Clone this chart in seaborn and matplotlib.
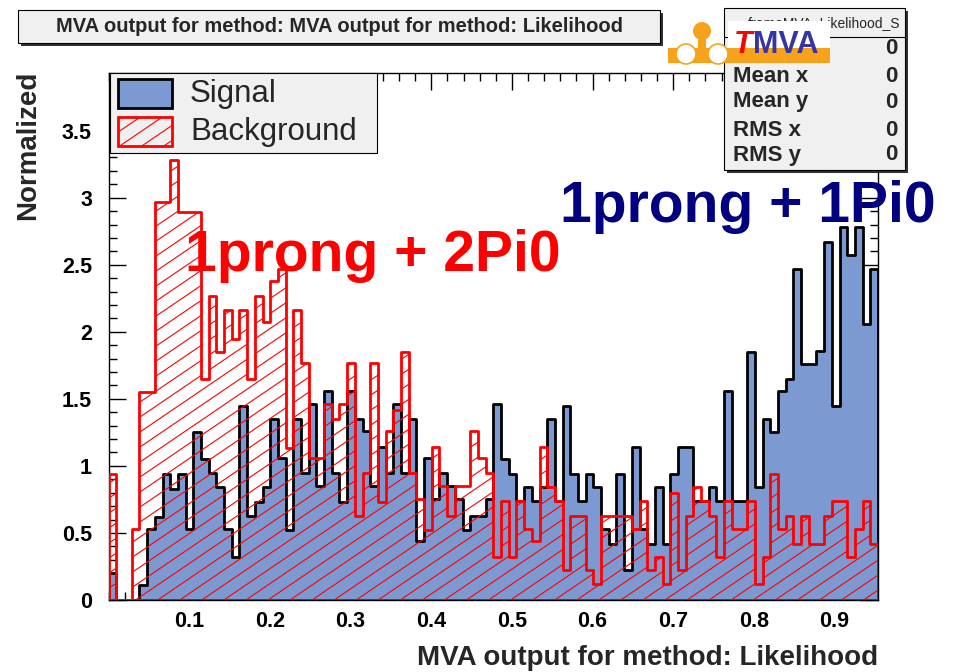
import numpy as np
import pandas as pd
import matplotlib
matplotlib.use("Agg")
import matplotlib.pyplot as plt
import seaborn as sns
from matplotlib.patches import Rectangle, Circle
from matplotlib.collections import LineCollection
from matplotlib.transforms import IdentityTransform
from matplotlib.ticker import MultipleLocator

# ---- histogram contents (normalized, 100 bins) ----
signal = [0.2, 0, 0, 0, 0.11, 0.53, 0.62, 0.94, 0.83, 0.94,
          0.53, 1.25, 1.05, 0.95, 0.84, 0.53, 0.32, 1.45, 0.63, 0.73,
          0.84, 1.35, 1.06, 0.52, 1.35, 0.95, 1.46, 0.85, 1.56, 0.95,
          0.73, 1.56, 1.35, 1.26, 0.85, 1.14, 0.95, 1.46, 0.95, 1.35,
          0.44, 1.06, 0.75, 0.95, 0.85, 0.75, 0.52, 0.63, 0.63, 0.75,
          1.46, 1.05, 0.94, 0.74, 0.84, 0.74, 0.84, 1.35, 0.74, 1.45,
          0.94, 0.74, 0.94, 0.84, 0.53, 0.42, 0.94, 0.22, 1.14, 0.53,
          0.42, 0.84, 0.42, 0.94, 1.14, 1.14, 0.74, 0.74, 0.84, 0.74,
          1.56, 0.74, 0.74, 1.85, 0.84, 1.35, 1.25, 1.56, 1.65, 2.47,
          1.76, 1.76, 1.86, 2.67, 1.45, 2.78, 2.57, 2.78, 2.06, 2.47]

background = [0.94, 0, 0, 0.53, 1.55, 1.55, 2.97, 2.97, 3.28, 2.89,
              2.89, 2.89, 1.65, 2.27, 1.85, 2.16, 1.95, 2.16, 1.65, 2.27,
              2.07, 2.38, 2.47, 1.13, 2.16, 1.77, 1.06, 1.06, 1.46, 1.35,
              1.46, 1.77, 0.63, 0.95, 1.77, 0.73, 1.26, 1.42, 1.85, 0.95,
              0.75, 0.52, 1.14, 0.85, 0.63, 0.85, 0.85, 1.26, 1.06, 0.95,
              0.32, 0.74, 0.32, 0.74, 0.53, 0.44, 1.14, 0.84, 0.74, 0.22,
              0.63, 0.63, 0.22, 0.12, 0.63, 0.63, 0.63, 0.63, 0.53, 0.74,
              0.22, 0.32, 0.12, 0.8, 0.22, 0.63, 0.84, 0.74, 0.63, 0.32,
              0.74, 0.53, 0.53, 0.74, 0.12, 0.32, 0.94, 0.53, 0.63, 0.42,
              0.63, 0.42, 0.42, 0.63, 0.74, 0.74, 0.32, 0.53, 0.74, 0.42]

x_range = [0.0, 0.954]
x_ticks = [0.1, 0.2, 0.3, 0.4, 0.5, 0.6, 0.7, 0.8, 0.9]
x_tick_labels = ["0.1", "0.2", "0.3", "0.4", "0.5", "0.6", "0.7", "0.8", "0.9"]
y_ticks = [0, 0.5, 1, 1.5, 2, 2.5, 3, 3.5]
y_tick_labels = ["0", "0.5", "1", "1.5", "2", "2.5", "3", "3.5"]
stats_rows = [("", "0"), ("Mean x", "0"), ("Mean y", "0"), ("RMS x", "0"), ("RMS y", "0")]

W, H = 959, 672
SIG_FILL = "#7d99d1"
ORANGE = "#f7a21b"

sns.set_theme(style="ticks")
plt.rcParams["font.family"] = ["Liberation Sans", "DejaVu Sans"]

fig = plt.figure(figsize=(W / 100, H / 100), dpi=100)
PIX = IdentityTransform()


def P(x, y):
    """pixel position measured from the top-left corner -> display coords"""
    return x, H - y


ax_l, ax_r, ax_t, ax_b = 108.7, 878.0, 73.0, 600.0
ax = fig.add_axes([ax_l / W, 1 - ax_b / H, (ax_r - ax_l) / W, (ax_b - ax_t) / H])

edges = list(np.linspace(x_range[0], x_range[1], len(signal) + 1))
centers = [0.5 * (a + b) for a, b in zip(edges[:-1], edges[1:])]
df = pd.DataFrame({"mva": centers, "signal": signal, "background": background})

sns.histplot(data=df, x="mva", weights="signal", bins=edges, element="step",
             fill=True, ax=ax, color=SIG_FILL, linewidth=2.0, zorder=2)
sig_poly = ax.collections[-1]
sig_poly.set_alpha(None)
sig_poly.set_facecolor(SIG_FILL)
sig_poly.set_edgecolor("black")

sns.histplot(data=df, x="mva", weights="background", bins=edges, element="step",
             fill=True, ax=ax, color="red", linewidth=2.0, zorder=4)
bkg_poly = ax.collections[-1]
bkg_poly.set_alpha(None)
bkg_poly.set_facecolor("none")
bkg_poly.set_edgecolor("red")


def hatch_lines(x0, x1, y0, y1, slope=0.68, step=15.0):
    """parallel rising lines covering a pixel box (display coords)"""
    segs = []
    c = y0 - slope * (x1 - x0) - step
    while c < y1 + step:
        segs.append([(x0, c), (x1, c + slope * (x1 - x0))])
        c += step
    return segs


hl = LineCollection(hatch_lines(100, 890, 60, 620), colors="red",
                    linewidths=0.8, transform=PIX, zorder=3)
ax.add_collection(hl, autolim=False)
hl.set_clip_path(bkg_poly.get_paths()[0], bkg_poly.get_transform())

ax.set_xlim(*x_range)
ax.set_ylim(0, 3.93)
ax.set_xticks(x_ticks)
ax.set_xticklabels(x_tick_labels, fontweight="bold")
ax.set_yticks(y_ticks)
ax.set_yticklabels(y_tick_labels, fontweight="bold")
ax.xaxis.set_minor_locator(MultipleLocator(0.02))
ax.yaxis.set_minor_locator(MultipleLocator(0.1))
ax.tick_params(which="both", direction="in", top=True, right=True,
               color="black", width=1.0, labelsize=15.5, labelcolor="black")
ax.tick_params(which="major", length=12)
ax.tick_params(which="minor", length=6)
ax.tick_params(axis="y", pad=12)
ax.tick_params(axis="x", pad=8)
for s in ax.spines.values():
    s.set_color("black")
    s.set_linewidth(1.0)

ax.set_xlabel("MVA output for method: Likelihood", fontsize=20,
              fontweight="bold", loc="right")
ax.xaxis.set_label_coords(1.0, -0.085)
ax.set_ylabel("Normalized", fontsize=20, fontweight="bold", loc="top")
ax.yaxis.set_label_coords(-0.088, 1.005)

# channel annotations
ax.text(185, H - 271, "1prong + 2Pi0", transform=PIX, color="red",
        fontsize=41, fontweight="bold", ha="left", va="baseline", zorder=6)
ax.text(560, H - 222, "1prong + 1Pi0", transform=PIX, color="#000080",
        fontsize=41, fontweight="bold", ha="left", va="baseline", zorder=6)


def box(x0, y0, x1, y1, face, shadow=0, z=5, lw=0.8):
    if shadow:
        fig.add_artist(Rectangle(P(x0 + shadow, y1 + shadow), x1 - x0, y1 - y0,
                                 transform=PIX, facecolor="#303030",
                                 edgecolor="none", zorder=z - 0.1))
    r = Rectangle(P(x0, y1), x1 - x0, y1 - y0, transform=PIX, facecolor=face,
                  edgecolor="black", linewidth=lw, zorder=z)
    fig.add_artist(r)
    return r


# title box
box(18, 10, 660, 43, "#f0f0f0", shadow=3)
fig.text(*P(339, 27), "MVA output for method: MVA output for method: Likelihood",
         transform=PIX, ha="center", va="center", fontsize=14.5,
         fontweight="bold", zorder=6)

# legend
box(110, 73, 377, 153, "#f0f0f0", z=5)
box(118, 79, 172, 108, SIG_FILL, z=6, lw=2.0)
leg_bkg = Rectangle(P(118, 146), 54, 29, transform=PIX, facecolor="none",
                    edgecolor="red", linewidth=2.0, zorder=6.2)
fig.add_artist(leg_bkg)
leg_hatch = LineCollection(hatch_lines(110, 180, H - 150, H - 114), colors="red",
                           linewidths=0.8, transform=PIX, zorder=6.1)
fig.add_artist(leg_hatch)
leg_hatch.set_clip_path(leg_bkg)
fig.text(*P(190, 94), "Signal", transform=PIX, ha="left", va="center",
         fontsize=22.5, zorder=7)
fig.text(*P(190, 132), "Background", transform=PIX, ha="left", va="center",
         fontsize=22.5, zorder=7)

# statistics box
box(724, 8, 905, 170, "#f0f0f0", shadow=3, z=5)
fig.add_artist(plt.Line2D([724, 905], [H - 37, H - 37], transform=PIX,
                          color="black", linewidth=0.8, zorder=5.5))
fig.text(*P(900, 23), "frameMVA_Likelihood_S", transform=PIX, ha="right",
         va="center", fontsize=10, zorder=6)
row_y = [48, 76, 102, 130, 155]
for (lab, val), yy in zip(stats_rows, row_y):
    if lab:
        fig.text(*P(733, yy), lab, transform=PIX, ha="left", va="center",
                 fontsize=16, fontweight="bold", zorder=6)
    fig.text(*P(897, yy), val, transform=PIX, ha="right", va="center",
             fontsize=16, fontweight="bold", zorder=6)

# TMVA logo
fig.add_artist(Rectangle(P(668, 63), 162, 15, transform=PIX, facecolor=ORANGE,
                         edgecolor="none", zorder=8))
fig.add_artist(Rectangle(P(728, 48), 102, 27, transform=PIX, facecolor="white",
                         edgecolor="none", zorder=8))
fig.add_artist(Rectangle(P(698, 50), 8, 14, transform=PIX, facecolor=ORANGE,
                         edgecolor="none", zorder=8))
fig.add_artist(Circle(P(702, 31), 9, transform=PIX, facecolor=ORANGE,
                      edgecolor="none", zorder=8.1))
for cx in (686, 718):
    fig.add_artist(Circle(P(cx, 54), 10, transform=PIX, facecolor="white",
                          edgecolor=ORANGE, linewidth=1.2, zorder=8.2))
fig.text(*P(734, 53), "T", transform=PIX, ha="left", va="baseline",
         fontsize=22, fontweight="bold", fontstyle="italic", color="red", zorder=9)
fig.text(*P(753, 53), "MVA", transform=PIX, ha="left", va="baseline",
         fontsize=22, fontweight="bold", color="#3535a8", zorder=9)

fig.savefig("out.png", dpi=100)
